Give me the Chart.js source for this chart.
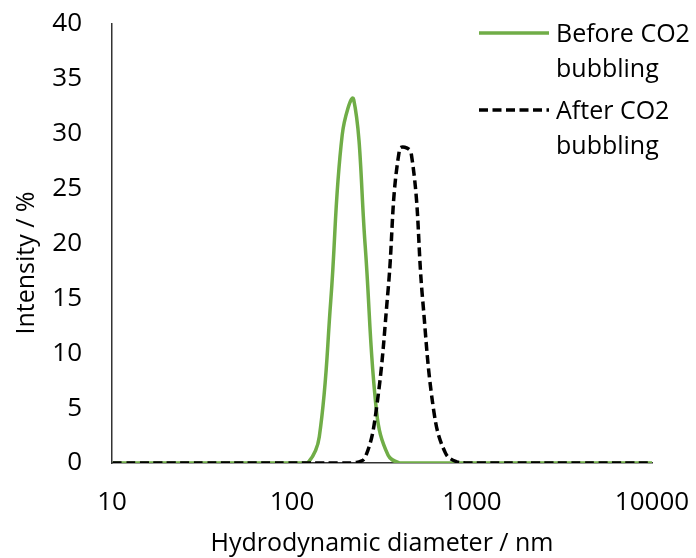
<!DOCTYPE html>
<html>
	<head>
		<title>Hydrodynamic diameter</title>
		<meta charset="UTF-8">
		<script src="https://cdn.jsdelivr.net/npm/chart.js@4.4.0/dist/chart.umd.min.js"></script>
		<style>
			html, body { margin: 0; padding: 0; background: #fff; }
		</style>
	</head>
	<body>
		<canvas id="myChart" width="696" height="558"></canvas>

    <script>

// size classes, nm
var sizes = [10.1, 11.7, 13.54, 15.69, 18.17, 21.04, 24.36, 28.21, 32.67, 37.84, 43.82, 50.75,
    58.77, 68.06, 78.82, 91.28, 105.7, 122.4, 141.8, 164.2, 190.1, 220.2, 255, 295.3,
    342, 396.1, 458.7, 531.2, 615.1, 712.4, 825, 955.4, 1106, 1281, 1484, 1718,
    1990, 2305, 2669, 3091, 3580, 4145, 4801, 5560, 6439, 7456, 8635, 10000];

// intensity, %
var before = [0, 0, 0, 0, 0, 0, 0, 0, 0, 0, 0, 0,
    0, 0, 0, 0, 0, 0, 2.4, 14.8, 29.9, 33.1, 19.8, 4.6,
    0.7, 0, 0, 0, 0, 0, 0, 0, 0, 0, 0, 0,
    0, 0, 0, 0, 0, 0, 0, 0, 0, 0, 0, 0];

var after = [0, 0, 0, 0, 0, 0, 0, 0, 0, 0, 0, 0,
    0, 0, 0, 0, 0, 0, 0, 0, 0, 0, 0.5, 5.1,
    15.8, 28.6, 28.3, 15.0, 4.6, 0.9, 0.1, 0, 0, 0, 0, 0,
    0, 0, 0, 0, 0, 0, 0, 0, 0, 0, 0, 0];

var seriesNames = [['Before CO2', 'bubbling'], ['After CO2', 'bubbling']];
var yTitle = 'Intensity / %';
var xTicks = [10, 100, 1000, 10000];
var yMin = 0, yMax = 40, yStep = 5;

var font = 'Open Sans';

function points(ys) {
    return sizes.map(function(s, i) { return {x: s, y: ys[i]}; });
}

// legend at top right with wrapped labels, plus the y title
var sideLegend = {
    id: 'sideLegend',
    afterDraw: function(chart) {
        var ctx = chart.ctx;
        ctx.save();
        ctx.font = '25px "' + font + '"';
        ctx.fillStyle = '#000';
        chart.data.datasets.forEach(function(ds, i) {
            var y = 33 + i * 77;
            ctx.strokeStyle = ds.borderColor;
            ctx.lineWidth = ds.borderWidth;
            ctx.setLineDash(ds.borderDash || []);
            ctx.beginPath();
            ctx.moveTo(479, y);
            ctx.lineTo(549, y);
            ctx.stroke();
            ctx.setLineDash([]);
            ctx.textBaseline = 'alphabetic';
            ctx.textAlign = 'left';
            seriesNames[i].forEach(function(t, k) {
                ctx.fillText(t, 556, y + 9 + k * 35);
            });
        });

        ctx.translate(27, 263);
        ctx.rotate(-Math.PI / 2);
        ctx.textAlign = 'center';
        ctx.textBaseline = 'middle';
        ctx.fillText(yTitle, 0, 0);
        ctx.restore();
    }
};

var ctx = document.getElementById('myChart').getContext('2d');
var chart = new Chart(ctx, {
    type: 'line',
    data: {
        datasets: [{
            label: seriesNames[0].join(' '),
            data: points(before),
            borderColor: '#70AD47',
            borderWidth: 3.5,
            pointRadius: 0,
            tension: 0.4,
            order: 2
        }, {
            label: seriesNames[1].join(' '),
            data: points(after),
            borderColor: '#000000',
            borderWidth: 3.5,
            borderDash: [9, 4.5],
            pointRadius: 0,
            tension: 0.4,
            order: 1
        }]
    },
    options: {
        responsive: false,
        animation: false,
        layout: { padding: { left: 0, right: 44, top: 24, bottom: 0 } },
        plugins: {
            legend: { display: false },
            tooltip: { enabled: false }
        },
        scales: {
            x: {
                type: 'logarithmic',
                min: 10,
                max: 10000,
                afterBuildTicks: function(s) {
                    s.ticks = xTicks.map(function(v) { return {value: v}; });
                },
                afterFit: function(s) {
                    s.height = 95;
                    s.paddingLeft = 0;
                    s.paddingRight = 0;
                },
                grid: { display: false, drawTicks: false },
                border: { display: true, color: '#333', width: 1.5 },
                ticks: {
                    color: '#000',
                    padding: 24,
                    maxRotation: 0,
                    autoSkip: false,
                    font: { family: font, size: 26 },
                    callback: function(v) { return String(v); }
                },
                title: {
                    display: true,
                    text: 'Hydrodynamic diameter / nm',
                    color: '#000',
                    padding: 0,
                    font: { family: font, size: 25, lineHeight: 1.1 }
                }
            },
            y: {
                min: yMin,
                max: yMax,
                afterFit: function(s) {
                    s.width = 112;
                    s.paddingTop = 0;
                    s.paddingBottom = 0;
                },
                grid: { display: false, drawTicks: false },
                border: { display: true, color: '#333', width: 1.5 },
                ticks: {
                    stepSize: yStep,
                    color: '#000',
                    padding: 30,
                    font: { family: font, size: 26 }
                },
                title: { display: false }
            }
        }
    },
    plugins: [sideLegend]
});
    </script>
	</body>
</html>
